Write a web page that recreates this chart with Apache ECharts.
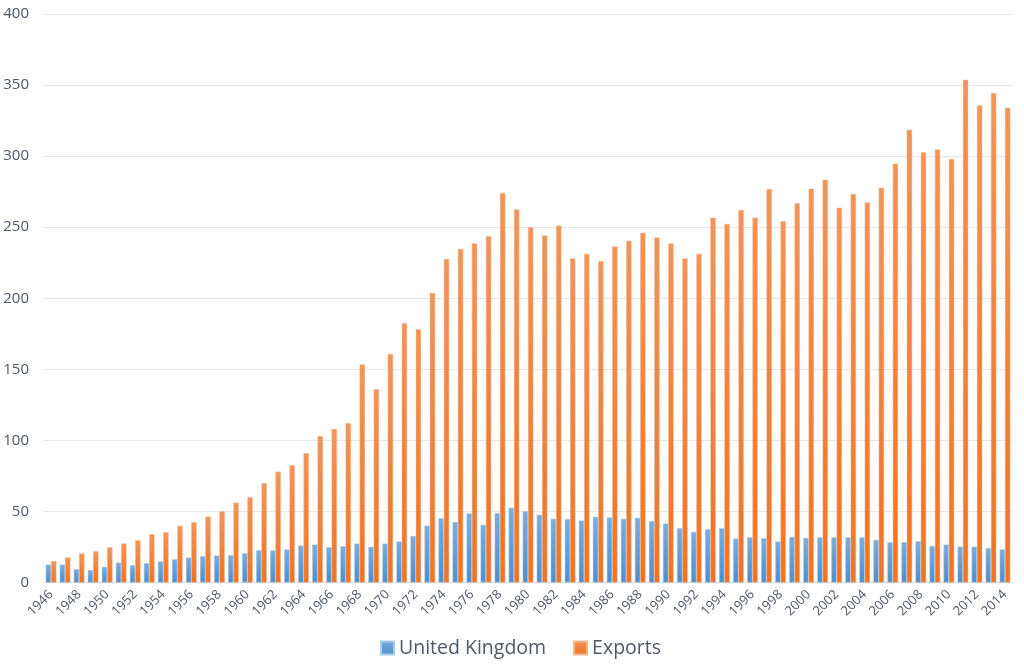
<!DOCTYPE html>
<html>
<head>
<meta charset="utf-8">
<script src="https://cdn.jsdelivr.net/npm/echarts@6/dist/echarts.min.js"></script>
<style>
html,body{margin:0;padding:0;background:#fff;}
#chart{width:1024px;height:664px;}
</style>
</head>
<body>
<div id="chart"></div>
<script>
const years = ['1946','1947','1948','1949','1950','1951','1952','1953','1954','1955','1956','1957','1958','1959','1960','1961','1962','1963','1964','1965','1966','1967','1968','1969','1970','1971','1972','1973','1974','1975','1976','1977','1978','1979','1980','1981','1982','1983','1984','1985','1986','1987','1988','1989','1990','1991','1992','1993','1994','1995','1996','1997','1998','1999','2000','2001','2002','2003','2004','2005','2006','2007','2008','2009','2010','2011','2012','2013','2014'];

const unitedKingdom = [12.6,12.6,9.4,8.7,11.0,14.0,12.2,13.6,14.8,16.4,17.6,18.5,19.0,19.2,20.6,22.7,22.5,23.2,26.0,26.7,24.8,25.6,27.4,25.1,27.4,28.9,32.7,40.0,45.2,42.6,48.6,40.5,48.9,52.6,50.2,47.6,44.8,44.6,43.6,46.2,45.8,44.8,45.5,43.2,41.5,38.3,35.6,37.5,38.2,30.9,31.8,31.1,28.8,32.1,31.4,31.8,31.8,31.8,31.8,30.0,28.3,28.5,29.0,25.7,26.7,25.2,25.2,24.3,23.3];

const exportsVals = [15.0,17.6,20.4,22.0,24.8,27.4,29.7,34.0,35.4,39.8,42.4,46.4,50.1,56.2,60.0,69.8,78.0,82.4,90.9,103.0,108.0,112.0,153.4,136.0,160.7,182.4,178.2,203.7,227.6,234.6,238.6,243.7,274.1,262.5,249.9,244.1,251.1,228.0,231.2,226.1,236.4,240.4,246.0,242.7,238.5,228.0,231.2,256.7,252.3,262.1,256.7,276.8,254.2,266.8,277.1,283.4,263.7,273.3,267.3,277.8,294.7,318.6,302.8,304.7,297.9,353.7,335.6,344.4,334.0];

const yTicks = [0,50,100,150,200,250,300,350,400];

const chart = echarts.init(document.getElementById('chart'));
const textColor = '#4d5868';
const fontFam = '"Open Sans","Noto Sans",sans-serif';
chart.setOption({
  animation: false,
  textStyle: { fontFamily: fontFam },
  grid: { left: 44, right: 12, top: 14, bottom: 81.5, containLabel: false },
  legend: {
    bottom: 1,
    left: 375,
    itemWidth: 13,
    itemHeight: 13,
    itemGap: 27,
    icon: 'rect',
    textStyle: { fontSize: 19.5, color: textColor, fontFamily: fontFam },
    data: ['United Kingdom', 'Exports']
  },
  xAxis: {
    type: 'category',
    data: years,
    axisLine: { lineStyle: { color: '#d9d9d9', width: 1 } },
    axisTick: { show: false },
    axisLabel: { interval: 1, rotate: 45, fontSize: 13, color: textColor, margin: 10, fontFamily: fontFam }
  },
  yAxis: {
    type: 'value',
    min: yTicks[0],
    max: yTicks[yTicks.length - 1],
    interval: 50,
    axisLine: { show: false },
    axisTick: { show: false },
    splitLine: { lineStyle: { color: '#e3e7ee', width: 1 } },
    axisLabel: { fontSize: 15, color: textColor, margin: 15, fontFamily: fontFam }
  },
  series: [
    {
      name: 'United Kingdom',
      type: 'bar',
      data: unitedKingdom,
      barGap: '0%',
      barCategoryGap: '24%',
      itemStyle: {
        color: new echarts.graphic.LinearGradient(0, 0, 0, 1, [
          { offset: 0, color: '#78ade0' },
          { offset: 1, color: '#4b8fd0' }
        ]),
        borderColor: '#a9cbec',
        borderWidth: 0.5
      }
    },
    {
      name: 'Exports',
      type: 'bar',
      data: exportsVals,
      barGap: '0%',
      barCategoryGap: '24%',
      itemStyle: {
        color: new echarts.graphic.LinearGradient(0, 0, 0, 1, [
          { offset: 0, color: '#f29458' },
          { offset: 1, color: '#ee7424' }
        ]),
        borderColor: '#f7b48a',
        borderWidth: 0.5
      }
    }
  ]
});
</script>
</body>
</html>
